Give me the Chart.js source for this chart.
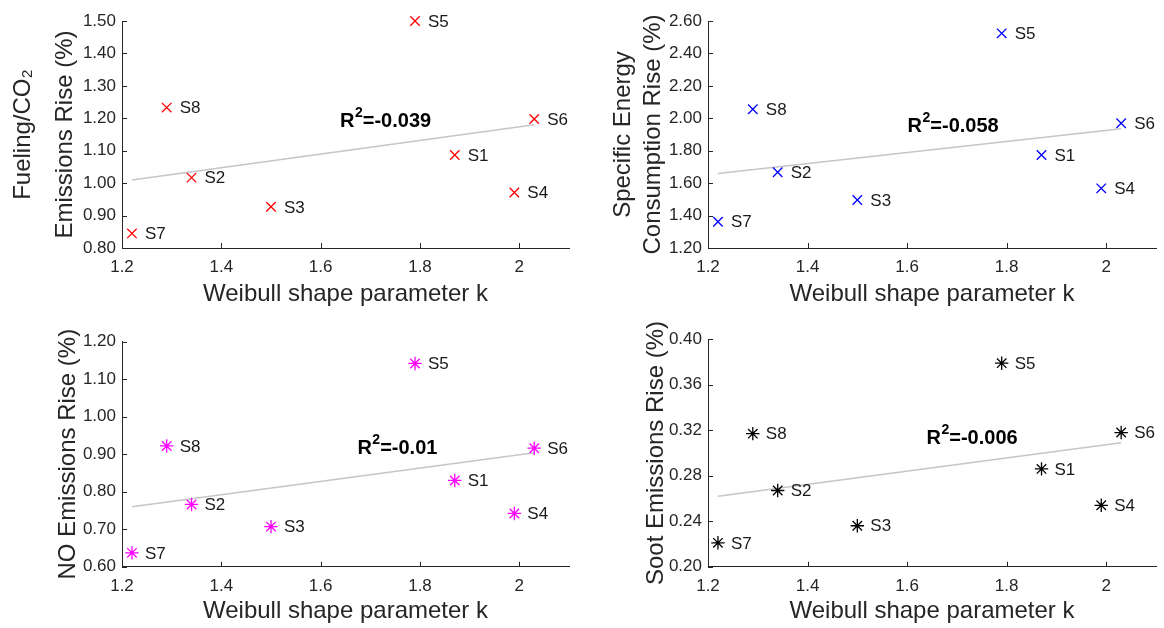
<!DOCTYPE html>
<html>
<head>
<meta charset="utf-8">
<script src="https://cdn.jsdelivr.net/npm/chart.js"></script>
<style>
  body { margin: 0; background: #fff; width: 1164px; height: 628px; position: relative; overflow: hidden; }
  canvas { position: absolute; }
</style>
</head>
<body>
<canvas id="c1" width="582" height="314" style="left:0;top:0"></canvas>
<canvas id="c2" width="582" height="314" style="left:582px;top:0"></canvas>
<canvas id="c3" width="582" height="314" style="left:0;top:314px"></canvas>
<canvas id="c4" width="582" height="314" style="left:582px;top:314px"></canvas>
<script>
// cases S1..S8
const caseNames = ["S1", "S2", "S3", "S4", "S5", "S6", "S7", "S8"];
const shapeK = [1.87, 1.34, 1.50, 1.99, 1.79, 2.03, 1.22, 1.29];

const fuelingRise = [1.087, 1.017, 0.927, 0.971, 1.50, 1.198, 0.845, 1.233];
const energyRise = [1.774, 1.667, 1.496, 1.568, 2.524, 1.969, 1.362, 2.056];
const noRise = [0.830, 0.766, 0.707, 0.742, 1.142, 0.916, 0.637, 0.922];
const sootRise = [0.286, 0.267, 0.236, 0.254, 0.379, 0.318, 0.221, 0.317];

// fitted line ends
const trendK = [1.22, 2.03];
const fuelingTrend = [1.01, 1.18];
const energyTrend = [1.66, 1.935];
const noTrend = [0.76, 0.904];
const sootTrend = [0.262, 0.309];

const rSquared = ["-0.039", "-0.058", "-0.01", "-0.006"];

const kTicks = [1.2, 1.4, 1.6, 1.8, 2.0];
const fuelingTicks = [0.8, 0.9, 1.0, 1.1, 1.2, 1.3, 1.4, 1.5];
const energyTicks = [1.2, 1.4, 1.6, 1.8, 2.0, 2.2, 2.4, 2.6];
const noTicks = [0.6, 0.7, 0.8, 0.9, 1.0, 1.1, 1.2];
const sootTicks = [0.20, 0.24, 0.28, 0.32, 0.36, 0.40];

const FONT = "'Liberation Sans', Arial, sans-serif";
const INK = "#262626";

// S labels, R^2 text and the inward tick marks
const extras = {
  id: "extras",
  afterDraw(chart, args, opts) {
    const ctx = chart.ctx;
    const xs = chart.scales.x;
    const ys = chart.scales.y;
    ctx.save();
    ctx.fillStyle = "#1a1a1a";
    ctx.textBaseline = "middle";
    ctx.font = "17px " + FONT;
    chart.data.datasets[0].data.forEach((p, i) => {
      ctx.fillText(caseNames[i], xs.getPixelForValue(p.x) + 13, ys.getPixelForValue(p.y) + 1);
    });

    let ax = xs.getPixelForValue(opts.rx);
    let ay = ys.getPixelForValue(opts.ry);
    ctx.fillStyle = "#000";
    ctx.font = "bold 20px " + FONT;
    ctx.fillText("R", ax, ay);
    ax += ctx.measureText("R").width;
    ctx.font = "bold 14px " + FONT;
    ctx.fillText("2", ax + 0.5, ay - 8.5);
    ax += ctx.measureText("2").width + 0.5;
    ctx.font = "bold 20px " + FONT;
    ctx.fillText("=" + opts.r2, ax, ay);

    ctx.strokeStyle = INK;
    ctx.lineWidth = 1;
    ctx.beginPath();
    const area = chart.chartArea;
    xs.ticks.forEach((t) => {
      const px = Math.round(xs.getPixelForValue(t.value)) + 0.5;
      ctx.moveTo(px, area.bottom);
      ctx.lineTo(px, area.bottom - 5);
    });
    ys.ticks.forEach((t) => {
      const py = Math.round(ys.getPixelForValue(t.value)) + 0.5;
      ctx.moveTo(area.left, py);
      ctx.lineTo(area.left + 5, py);
    });
    ctx.stroke();
    ctx.restore();
  },
};

function buildPanel(id, cfg) {
  new Chart(document.getElementById(id), {
    type: "scatter",
    data: {
      datasets: [
        {
          data: shapeK.map((k, i) => ({ x: k, y: cfg.values[i] })),
          pointStyle: cfg.marker,
          pointRadius: 6.7,
          pointBorderWidth: 1.3,
          borderColor: cfg.color,
          backgroundColor: cfg.color,
          clip: false,
          order: 0,
        },
        {
          data: trendK.map((k, i) => ({ x: k, y: cfg.trend[i] })),
          showLine: true,
          borderColor: "#c6c6c6",
          borderWidth: 1.5,
          pointRadius: 0,
          order: 1,
        },
      ],
    },
    options: {
      responsive: false,
      animation: false,
      events: [],
      layout: { padding: { top: cfg.top, right: cfg.right, left: 0, bottom: 0 } },
      plugins: {
        legend: { display: false },
        tooltip: { enabled: false },
        extras: { rx: cfg.rx, ry: cfg.ry, r2: cfg.r2 },
      },
      scales: {
        x: {
          type: "linear",
          min: 1.2,
          max: 2.1,
          afterBuildTicks: (s) => { s.ticks = kTicks.map((v) => ({ value: v })); },
          afterFit: (s) => { s.height = cfg.xh; },
          grid: { display: false, drawTicks: false },
          border: { display: true, color: INK, width: 1 },
          ticks: {
            color: INK,
            padding: 9,
            maxRotation: 0,
            font: { size: 17, family: FONT },
            callback: (v) => String(Number(v.toFixed(1))),
          },
          title: {
            display: true,
            text: "Weibull shape parameter k",
            color: INK,
            font: { size: 24, family: FONT },
            padding: { top: 0, bottom: cfg.xtPad },
          },
        },
        y: {
          type: "linear",
          min: cfg.ticks[0],
          max: cfg.ticks[cfg.ticks.length - 1],
          afterBuildTicks: (s) => { s.ticks = cfg.ticks.map((v) => ({ value: v })); },
          afterFit: (s) => { s.width = cfg.yw; },
          grid: { display: false, drawTicks: false },
          border: { display: true, color: INK, width: 1 },
          ticks: {
            color: INK,
            padding: 6,
            font: { size: 17, family: FONT },
            callback: (v) => v.toFixed(2),
          },
          title: {
            display: true,
            text: cfg.title,
            color: INK,
            font: { size: 24, family: FONT, lineHeight: cfg.tlh },
            padding: { top: cfg.ytPad, bottom: 0 },
          },
        },
      },
    },
    plugins: [extras],
  });
}

buildPanel("c1", {
  values: fuelingRise, trend: fuelingTrend, ticks: fuelingTicks,
  marker: "crossRot", color: "#ff0000",
  title: ["Fueling/CO\u2082", "Emissions Rise (%)"], tlh: 1.75, ytPad: 2,
  rx: 1.639, ry: 1.189, r2: rSquared[0],
  yw: 122, xh: 66, top: 21, right: 13, xtPad: 5,
});

buildPanel("c2", {
  values: energyRise, trend: energyTrend, ticks: energyTicks,
  marker: "crossRot", color: "#0000ff",
  title: ["Specific Energy", "Consumption Rise (%)"], tlh: 1.27, ytPad: 25.7,
  rx: 1.601, ry: 1.948, r2: rSquared[1],
  yw: 126, xh: 66, top: 21, right: 6, xtPad: 5,
});

buildPanel("c3", {
  values: noRise, trend: noTrend, ticks: noTicks,
  marker: "star", color: "#ff00ff",
  title: "NO Emissions Rise (%)", tlh: 1.2, ytPad: 54,
  rx: 1.674, ry: 0.916, r2: rSquared[2],
  yw: 122, xh: 61.3, top: 27.7, right: 13, xtPad: 2,
});

buildPanel("c4", {
  values: sootRise, trend: sootTrend, ticks: sootTicks,
  marker: "star", color: "#000000",
  title: "Soot Emissions Rise (%)", tlh: 1.2, ytPad: 60,
  rx: 1.639, ry: 0.313, r2: rSquared[3],
  yw: 126, xh: 61.3, top: 25.3, right: 6, xtPad: 2,
});
</script>
</body>
</html>
